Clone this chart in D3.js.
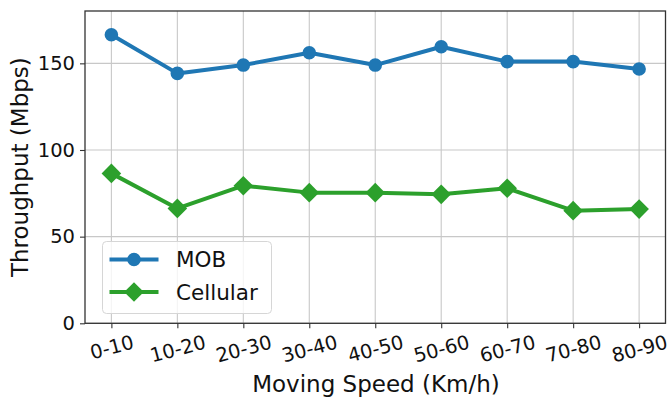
<!DOCTYPE html>
<html>
<head>
<meta charset="utf-8">
<script src="https://cdn.jsdelivr.net/npm/d3@7"></script>
<style>
  html, body { margin: 0; padding: 0; background: #fff; }
  svg { display: block; font-family: "DejaVu Sans", sans-serif; }
</style>
</head>
<body>
<svg id="chart" width="671" height="397"></svg>
<script>
// Speed bins and measured throughput (Mbps)
const speeds = ["0-10", "10-20", "20-30", "30-40", "40-50", "50-60", "60-70", "70-80", "80-90"];
const mobValues = [166.5, 144.2, 149.0, 156.1, 149.0, 159.6, 151.0, 151.0, 146.7];
const cellularValues = [86.5, 66.3, 79.4, 75.4, 75.4, 74.4, 77.9, 65.0, 65.9];
const yTicks = [0, 50, 100, 150];

const series = [
  { name: "MOB", values: mobValues, color: "#1f77b4", marker: "circle" },
  { name: "Cellular", values: cellularValues, color: "#2ca02c", marker: "diamond" }
];

const svg = d3.select("#chart");
const plot = { left: 85, top: 11, right: 665.5, bottom: 323.3 };
const tickFont = 19.5;
const titleFont = 23;
const legendFont = 21.5;

// Categorical axis with a 5% margin on each side of the index range
const x = d3.scaleLinear()
  .domain([-0.4, speeds.length - 1 + 0.4])
  .range([plot.left, plot.right]);
const y = d3.scaleLinear()
  .domain([0, 180.2])
  .range([plot.bottom, plot.top]);

// Grid
const grid = svg.append("g");
grid.selectAll("line.gx").data(speeds).enter().append("line")
  .attr("x1", (d, i) => x(i)).attr("x2", (d, i) => x(i))
  .attr("y1", plot.top).attr("y2", plot.bottom)
  .attr("stroke", "#c8c8c8").attr("stroke-width", 1.1);
grid.selectAll("line.gy").data(yTicks).enter().append("line")
  .attr("x1", plot.left).attr("x2", plot.right)
  .attr("y1", d => y(d)).attr("y2", d => y(d))
  .attr("stroke", "#c8c8c8").attr("stroke-width", 1.1);

// Y axis
const yAxis = d3.axisLeft(y).tickValues(yTicks).tickSize(5).tickPadding(5);
const gy = svg.append("g").attr("transform", `translate(${plot.left},0)`).call(yAxis);
gy.select(".domain").remove();
gy.selectAll(".tick line").attr("stroke", "#333").attr("stroke-width", 1.1);
gy.selectAll(".tick text").attr("font-size", tickFont).attr("fill", "#111")
  .attr("font-family", "DejaVu Sans");

// X axis
const xAxis = d3.axisBottom(x).tickValues(d3.range(speeds.length))
  .tickFormat(i => speeds[i]).tickSize(5);
const gx = svg.append("g").attr("transform", `translate(0,${plot.bottom})`).call(xAxis);
gx.select(".domain").remove();
gx.selectAll(".tick line").attr("stroke", "#333").attr("stroke-width", 1.1);

// Rotated tick labels: top of the rotated box sits just below the ticks
const angle = -15, rad = Math.abs(angle) * Math.PI / 180;
gx.selectAll(".tick text").each(function() {
  const t = d3.select(this);
  t.attr("font-size", tickFont).attr("fill", "#111").attr("font-family", "DejaVu Sans")
    .attr("text-anchor", "middle").attr("dy", null).attr("y", 0);
  const w = this.getComputedTextLength();
  const h = tickFont * 0.73;
  const half = (w / 2) * Math.sin(rad) + (h / 2) * Math.cos(rad);
  const cy = 11.5 + half;
  t.attr("transform", `translate(0,${cy}) rotate(${angle})`)
    .attr("dominant-baseline", "central");
});

// Frame
svg.append("rect")
  .attr("x", plot.left).attr("y", plot.top)
  .attr("width", plot.right - plot.left).attr("height", plot.bottom - plot.top)
  .attr("fill", "none").attr("stroke", "#333").attr("stroke-width", 1.3);

// Axis titles
svg.append("text")
  .attr("x", 376).attr("y", 392)
  .attr("text-anchor", "middle").attr("font-size", titleFont).attr("fill", "#111")
  .text("Moving Speed (Km/h)");
svg.append("text")
  .attr("transform", `translate(28,${(plot.top + plot.bottom) / 2}) rotate(-90)`)
  .attr("text-anchor", "middle").attr("font-size", titleFont).attr("fill", "#111")
  .text("Throughput (Mbps)");

// Marker drawing
const circleSym = d3.symbol().type(d3.symbolCircle).size(Math.PI * 6.8 * 6.8);
const diamondPath = r => `M0,${-r}L${r},0L0,${r}L${-r},0Z`;
function drawMarker(g, s, cx, cy) {
  if (s.marker === "circle") {
    g.append("path").attr("d", circleSym()).attr("transform", `translate(${cx},${cy})`)
      .attr("fill", s.color);
  } else {
    g.append("path").attr("d", diamondPath(9.8)).attr("transform", `translate(${cx},${cy})`)
      .attr("fill", s.color);
  }
}

// Lines and markers
const line = d3.line().x((d, i) => x(i)).y(d => y(d));
series.forEach(s => {
  const g = svg.append("g");
  g.append("path").datum(s.values).attr("d", line)
    .attr("fill", "none").attr("stroke", s.color).attr("stroke-width", 4)
    .attr("stroke-linejoin", "round");
  s.values.forEach((v, i) => drawMarker(g, s, x(i), y(v)));
});

// Legend
const legend = svg.append("g");
legend.append("rect")
  .attr("x", 102.5).attr("y", 241.5).attr("width", 169).attr("height", 72)
  .attr("rx", 4).attr("fill", "rgba(255,255,255,0.8)")
  .attr("stroke", "#d6d6d6").attr("stroke-width", 1);
series.forEach((s, i) => {
  const ly = 259.5 + i * 32.5;
  const lg = legend.append("g");
  lg.append("line").attr("x1", 109.5).attr("x2", 158.5).attr("y1", ly).attr("y2", ly)
    .attr("stroke", s.color).attr("stroke-width", 4);
  drawMarker(lg, s, 134, ly);
  lg.append("text").attr("x", 176).attr("y", ly + 7.8)
    .attr("font-size", legendFont).attr("fill", "#111").text(s.name);
});
</script>
</body>
</html>
